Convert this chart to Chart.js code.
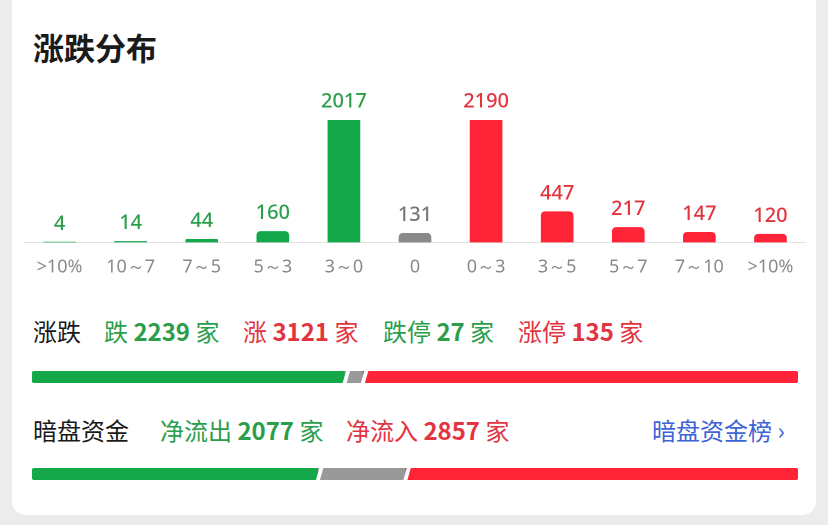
<!DOCTYPE html>
<html>
<head>
<meta charset="utf-8">
<script src="https://cdn.jsdelivr.net/npm/chart.js@4/dist/chart.umd.min.js"></script>
<style>
  body { margin:0; width:828px; height:525px; background:#ececec; font-family:"Noto Sans CJK SC","Noto Sans",sans-serif; overflow:hidden; }
  .card { position:absolute; left:12px; top:-12px; width:804px; height:527px; background:#fff; border-radius:14px; }
  .abs { position:absolute; white-space:nowrap; }
  .title { left:33px; top:24px; font-size:31px; font-weight:700; color:#1a1a1a; }
  .row { font-size:24px; line-height:30px; }
  .row b { font-weight:700; }
  .g { color:#2b9e4b; } .r { color:#e2343f; } .k { color:#1a1a1a; } .b { color:#3e63d6; }
  canvas { position:absolute; }
</style>
</head>
<body>
<div class="card"></div>
<div class="abs title">涨跌分布</div>
<canvas id="dist" style="left:24px;top:70px;width:782px;height:214px"></canvas>
<div class="abs row k" style="left:33px;top:316px">涨跌</div>
<div class="abs row g" style="left:104px;top:316px">跌 <b>2239</b> 家</div>
<div class="abs row r" style="left:243px;top:316px">涨 <b>3121</b> 家</div>
<div class="abs row g" style="left:383px;top:316px">跌停 <b>27</b> 家</div>
<div class="abs row r" style="left:518px;top:316px">涨停 <b>135</b> 家</div>
<canvas id="bar1" style="left:32px;top:371px;width:766px;height:12px"></canvas>
<div class="abs row k" style="left:33px;top:415px">暗盘资金</div>
<div class="abs row g" style="left:160px;top:415px">净流出 <b>2077</b> 家</div>
<div class="abs row r" style="left:346px;top:415px">净流入 <b>2857</b> 家</div>
<div class="abs row b" style="left:652px;top:415px">暗盘资金榜 ›</div>
<canvas id="bar2" style="left:32px;top:468px;width:766px;height:12px"></canvas>
<script>
const categories = ['>10%', '10～7', '7～5', '5～3', '3～0', '0', '0～3', '3～5', '5～7', '7～10', '>10%'];
const counts = [4, 14, 44, 160, 2017, 131, 2190, 447, 217, 147, 120];
const barColors = ['#14a84b','#14a84b','#14a84b','#14a84b','#14a84b','#8a8a8a','#ff2438','#ff2438','#ff2438','#ff2438','#ff2438'];
const labelColors = ['#2b9e4b','#2b9e4b','#2b9e4b','#2b9e4b','#2b9e4b','#777777','#e2343f','#e2343f','#e2343f','#e2343f','#e2343f'];

const riseFall = [2239, 131, 3121];      // 跌, 平, 涨
const darkFlow = [2077, 636, 2857];      // 净流出, 其他, 净流入
const splitColors = ['#14a84b', '#999999', '#ff2438'];

const valueLabels = {
  id: 'valueLabels',
  afterDatasetsDraw(chart) {
    const ctx = chart.ctx, top = chart.chartArea.top;
    ctx.save();
    ctx.font = '500 20px "Noto Sans", sans-serif';
    ctx.textAlign = 'center';
    ctx.textBaseline = 'bottom';
    chart.getDatasetMeta(0).data.forEach((bar, i) => {
      ctx.fillStyle = labelColors[i];
      ctx.fillText(String(counts[i]), bar.x, Math.max(bar.y, top) - 8);
    });
    ctx.restore();
  }
};

new Chart(document.getElementById('dist'), {
  type: 'bar',
  data: { labels: categories, datasets: [{ data: counts, backgroundColor: barColors, borderRadius: 4, borderSkipped: 'bottom', barThickness: 32 }] },
  options: {
    animation: false, responsive: false, devicePixelRatio: 2,
    layout: { padding: { top: 50 } },
    plugins: { legend: { display: false }, tooltip: { enabled: false } },
    scales: {
      x: { grid: { display: false }, border: { color: '#e2e2e2' },
           ticks: { color: '#888888', font: { size: 18, family: '"Noto Sans", sans-serif' }, padding: 6 } },
      y: { display: false, min: 0, max: 1780 }
    }
  },
  plugins: [valueLabels]
});

// white slanted gaps between the segments
const slantGaps = {
  id: 'slantGaps',
  afterDatasetsDraw(chart) {
    const ctx = chart.ctx, a = chart.chartArea;
    const n = chart.data.datasets.length;
    ctx.save();
    ctx.fillStyle = '#ffffff';
    for (let d = 0; d < n - 1; d++) {
      const x = chart.getDatasetMeta(d).data[0].x;
      ctx.beginPath();
      ctx.moveTo(x - 2, a.bottom + 1); ctx.lineTo(x + 2, a.bottom + 1);
      ctx.lineTo(x + 6, a.top - 1); ctx.lineTo(x + 2, a.top - 1);
      ctx.closePath(); ctx.fill();
    }
    ctx.restore();
  }
};

function splitBar(id, values) {
  const total = values.reduce((s, v) => s + v, 0);
  new Chart(document.getElementById(id), {
    type: 'bar',
    data: { labels: [''], datasets: values.map((v, i) => ({
      data: [v], backgroundColor: splitColors[i], barPercentage: 1, categoryPercentage: 1,
      borderRadius: i === 0 ? { topLeft: 3, bottomLeft: 3 } : i === values.length - 1 ? { topRight: 3, bottomRight: 3 } : 0,
      borderSkipped: false })) },
    options: {
      indexAxis: 'y', animation: false, responsive: false, devicePixelRatio: 2,
      plugins: { legend: { display: false }, tooltip: { enabled: false } },
      scales: { x: { display: false, stacked: true, min: 0, max: total }, y: { display: false, stacked: true } }
    },
    plugins: [slantGaps]
  });
}
splitBar('bar1', riseFall);
splitBar('bar2', darkFlow);
</script>
</body>
</html>
